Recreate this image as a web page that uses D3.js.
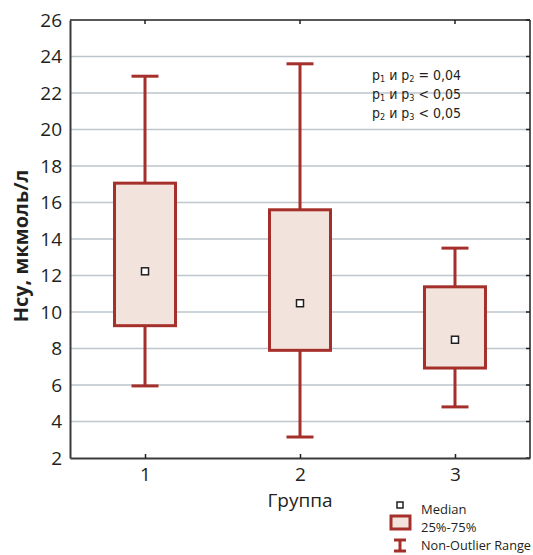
<!DOCTYPE html>
<meta charset="utf-8">
<head>
<style>
body { margin: 0; background: #fff; }
text { font-family: "Open Sans", sans-serif; fill: #231f20; }
.grid line { stroke: #bcc6cc; stroke-width: 1.5; }
.box { fill: #f2e3dc; stroke: #a52f2b; stroke-width: 3; }
.wh { stroke: #a52f2b; stroke-width: 3; }
.med { fill: #fff; stroke: #231f20; stroke-width: 1.5; }
</style>
</head>
<body>
<script src="https://cdn.jsdelivr.net/npm/d3@7"></script>
<svg id="chart" width="533" height="555"></svg>
<script>

var groups = ["1", "2", "3"];
var whiskerLow = [5.95, 3.15, 4.8];
var q1 = [9.25, 7.9, 6.93];
var median = [12.23, 10.48, 8.48];
var q3 = [17.06, 15.6, 11.38];
var whiskerHigh = [22.92, 23.6, 13.5];
var yTicks = [2, 4, 6, 8, 10, 12, 14, 16, 18, 20, 22, 24, 26];
var notes = [["p", "1", " и p", "2", " = 0,04"], ["p", "1", " и p", "3", " < 0,05"], ["p", "2", " и p", "3", " < 0,05"]];

var svg = d3.select("#chart"),
    margin = {top: 20, right: 3, bottom: 97, left: 70},
    width = +svg.attr("width") - margin.left - margin.right,
    height = +svg.attr("height") - margin.top - margin.bottom,
    g = svg.append("g").attr("transform", "translate(" + margin.left + "," + margin.top + ")");

var data = groups.map(function(d, i) {
  return {g: d, lo: whiskerLow[i], q1: q1[i], med: median[i], q3: q3[i], hi: whiskerHigh[i]};
});

var x = d3.scalePoint().domain(groups).range([0, width]).padding(0.484);
var y = d3.scaleLinear().domain([2, 26]).range([height, 0]);

// grid
g.append("g").attr("class", "grid")
  .selectAll("line")
  .data(yTicks.slice(1, -1))
  .enter().append("line")
    .attr("x1", 0).attr("x2", width)
    .attr("y1", function(d) { return y(d); })
    .attr("y2", function(d) { return y(d); });

// frame top/right
g.append("line").attr("x1", 0).attr("x2", width).attr("y1", 0).attr("y2", 0)
  .attr("stroke", "#231f20").attr("stroke-width", 1.5);
g.append("line").attr("x1", width).attr("x2", width).attr("y1", 0).attr("y2", height)
  .attr("stroke", "#231f20").attr("stroke-width", 1.5);

// inner ticks on top and right
g.selectAll(".ttick").data(groups).enter().append("line")
  .attr("x1", function(d) { return x(d); }).attr("x2", function(d) { return x(d); })
  .attr("y1", 0).attr("y2", 4).attr("stroke", "#231f20").attr("stroke-width", 1.5);
g.selectAll(".rtick").data(yTicks).enter().append("line")
  .attr("x1", width - 4).attr("x2", width)
  .attr("y1", function(d) { return y(d); }).attr("y2", function(d) { return y(d); })
  .attr("stroke", "#231f20").attr("stroke-width", 1.5);

// axes
var yAxis = g.append("g")
  .call(d3.axisLeft(y).tickValues(yTicks).tickSize(0).tickPadding(8));
yAxis.select(".domain").attr("stroke", "#3a3a3a").attr("stroke-width", 2);
yAxis.selectAll("text").style("font-size", "19px").attr("fill", "#231f20");

var xAxis = g.append("g")
  .attr("transform", "translate(0," + height + ")")
  .call(d3.axisBottom(x).tickSizeInner(-4).tickSizeOuter(0).tickPadding(10));
xAxis.select(".domain").attr("stroke", "#3a3a3a").attr("stroke-width", 2);
xAxis.selectAll(".tick line").attr("stroke", "#231f20").attr("stroke-width", 1.5);
xAxis.selectAll("text").style("font-size", "19px").attr("fill", "#231f20");

// boxes
var bw = 61, cap = 27;
var b = g.selectAll(".bx").data(data).enter().append("g");
b.append("line").attr("class", "wh")
  .attr("x1", function(d) { return x(d.g); }).attr("x2", function(d) { return x(d.g); })
  .attr("y1", function(d) { return y(d.hi); }).attr("y2", function(d) { return y(d.lo); });
b.append("line").attr("class", "wh")
  .attr("x1", function(d) { return x(d.g) - cap / 2; }).attr("x2", function(d) { return x(d.g) + cap / 2; })
  .attr("y1", function(d) { return y(d.hi); }).attr("y2", function(d) { return y(d.hi); });
b.append("line").attr("class", "wh")
  .attr("x1", function(d) { return x(d.g) - cap / 2; }).attr("x2", function(d) { return x(d.g) + cap / 2; })
  .attr("y1", function(d) { return y(d.lo); }).attr("y2", function(d) { return y(d.lo); });
b.append("rect").attr("class", "box")
  .attr("x", function(d) { return x(d.g) - bw / 2; })
  .attr("y", function(d) { return y(d.q3); })
  .attr("width", bw)
  .attr("height", function(d) { return y(d.q1) - y(d.q3); });
b.append("rect").attr("class", "med")
  .attr("x", function(d) { return x(d.g) - 3.5; })
  .attr("y", function(d) { return y(d.med) - 3.5; })
  .attr("width", 7).attr("height", 7);

// axis titles
svg.append("text")
  .attr("transform", "translate(28,246) rotate(-90)")
  .attr("text-anchor", "middle")
  .style("font-size", "20px").style("font-weight", "bold")
  .text("Нсу, мкмоль/л");
svg.append("text")
  .attr("x", 300).attr("y", 507)
  .attr("text-anchor", "middle")
  .style("font-size", "19px")
  .text("Группа");

// p-value notes
var nt = svg.append("g").selectAll("text").data(notes).enter().append("text")
  .attr("x", 372).attr("y", function(d, i) { return 80 + i * 19; })
  .style("font-family", "'DejaVu Sans Condensed', sans-serif")
  .style("font-size", "14px");
nt.each(function(d) {
  var t = d3.select(this);
  d.forEach(function(s, j) {
    var sp = t.append("tspan").text(s);
    if (j % 2 === 1) sp.style("font-size", "9px").attr("dy", 2);
    else if (j > 0) sp.attr("dy", -2);
  });
});

// legend
var lg = svg.append("g").style("font-family", "'DejaVu Sans Condensed', sans-serif").style("font-size", "13px");
lg.append("rect").attr("x", 397).attr("y", 502).attr("width", 6).attr("height", 6)
  .attr("fill", "#fff").attr("stroke", "#231f20").attr("stroke-width", 1.5);
lg.append("text").attr("x", 421).attr("y", 514).text("Median");
lg.append("rect").attr("class", "box").attr("x", 391).attr("y", 516).attr("width", 19).attr("height", 13);
lg.append("text").attr("x", 421).attr("y", 532).text("25%-75%");
lg.append("line").attr("class", "wh").attr("stroke-width", 1.5).attr("x1", 400).attr("x2", 400).attr("y1", 540).attr("y2", 551);
lg.append("line").attr("class", "wh").attr("stroke-width", 1.5).attr("x1", 394).attr("x2", 406).attr("y1", 540).attr("y2", 540);
lg.append("line").attr("class", "wh").attr("stroke-width", 1.5).attr("x1", 394).attr("x2", 406).attr("y1", 551).attr("y2", 551);
lg.append("text").attr("x", 421).attr("y", 550).attr("textLength", 110).attr("lengthAdjust", "spacingAndGlyphs").text("Non-Outlier Range");
</script>
</body>
</html>
